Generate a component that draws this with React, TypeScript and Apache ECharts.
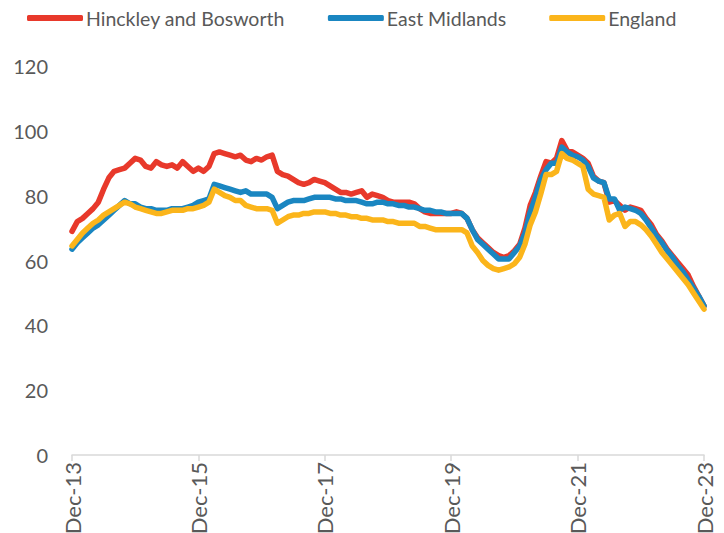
import React, { useEffect, useRef } from "react";
import * as echarts from "echarts";

const monthNames = ["Jan", "Feb", "Mar", "Apr", "May", "Jun", "Jul", "Aug", "Sep", "Oct", "Nov", "Dec"];
// Monthly categories Dec-13 .. Dec-23
const categories: string[] = ["Dec-13"];
for (let y = 14; y <= 23; y++) {
  for (let m = 0; m < 12; m++) categories.push(`${monthNames[m]}-${y}`);
}

const hinckley = [
  69, 72, 73, 74.5, 76, 78, 82, 85.5, 87.5, 88, 88.5, 90, 91.5,
  91, 89, 88.5, 90.5, 89.5, 89, 89.5, 88.5, 90.5, 89, 87.5, 88.5,
  87.5, 89, 93, 93.5, 93, 92.5, 92, 92.5, 91, 90.5, 91.5, 91,
  92, 92.5, 87.5, 86.5, 86, 85, 84, 83.5, 84, 85, 84.5, 84,
  83, 82, 81, 81, 80.5, 81, 81.5, 79.5, 80.5, 80, 79.5, 78.5,
  78, 78, 78, 78, 77.5, 76, 75, 74.5, 74.5, 74.5, 74.5, 74.5,
  75, 74.5, 73, 69.5, 67, 65.5, 64, 62.5, 61.5, 61, 61.5, 63,
  65, 70, 77, 81, 86, 90.5, 90, 91.5, 97, 94, 93.5, 92.5,
  91.5, 90, 86, 84.5, 84, 78, 78.5, 77, 75.5, 76.5, 76, 75.5,
  73, 71, 68, 66, 63.5, 61.5, 59.5, 57.5, 55.5, 52, 49, 46,
];

const eastMidlands = [
  63.5, 65.5, 67, 68.5, 70, 71, 72.5, 74, 75.5, 77, 78.5, 77.5, 77.5,
  76.5, 76, 76, 75.5, 75.5, 75.5, 76, 76, 76, 76.5, 77, 78,
  78.5, 79, 83.5, 83, 82.5, 82, 81.5, 81, 81.5, 80.5, 80.5, 80.5,
  80.5, 79.5, 76, 77, 78, 78.5, 78.5, 78.5, 79, 79.5, 79.5, 79.5,
  79.5, 79, 79, 78.5, 78.5, 78.5, 78, 77.5, 77.5, 78, 78, 77.5,
  77.5, 77, 77, 76.5, 76.5, 76, 75.5, 75.5, 75, 75, 74.5, 74.5,
  74.5, 74.5, 73, 69.5, 66.5, 65, 63.5, 62, 60.5, 60.5, 60.5, 62.5,
  64.5, 68.5, 75, 79.5, 85, 88, 90, 90, 95, 93.5, 92.5, 92,
  91, 89, 85.5, 84.5, 84, 79, 79, 75.5, 76.5, 76, 75.5, 74.5,
  72.5, 70, 67.5, 65.5, 63, 61, 58.5, 56.5, 54, 51.5, 49, 46,
];

const england = [
  64.5, 66.5, 68.5, 70, 71.5, 72.5, 74, 75, 76, 77, 78, 77.5, 76.5,
  76, 75.5, 75, 74.5, 74.5, 75, 75.5, 75.5, 75.5, 76, 76, 76.5,
  77, 78, 82, 81, 80, 79.5, 78.5, 78.5, 77, 76.5, 76, 76,
  76, 75.5, 71.5, 72.5, 73.5, 74, 74, 74.5, 74.5, 75, 75, 75,
  74.5, 74.5, 74, 74, 73.5, 73.5, 73, 73, 72.5, 72.5, 72.5, 72,
  72, 71.5, 71.5, 71.5, 71.5, 70.5, 70.5, 70, 69.5, 69.5, 69.5, 69.5,
  69.5, 69.5, 68.5, 64.5, 62.5, 60, 58.5, 57.5, 57, 57.5, 58, 59,
  61, 65, 71, 75, 80.5, 86.5, 86.5, 87.5, 93, 91.5, 91, 90,
  89, 82, 80.5, 80, 79.5, 72.5, 74, 74.5, 70.5, 72, 72, 71,
  69.5, 67.5, 65, 62.5, 60.5, 58.5, 56.5, 54.5, 52.5, 50, 47.5, 45,
];

const seriesNames = ["Hinckley and Bosworth", "East Midlands", "England"];
const colors = ["#E8392B", "#1A86C1", "#FBB51B"];
const yTicks = { min: 0, max: 120, interval: 20 };

export default function App() {
  const ref = useRef<HTMLDivElement>(null);
  useEffect(() => {
    if (!ref.current) return;
    const chart = echarts.init(ref.current, null, { renderer: "svg" });
    const font = "Lato, 'Open Sans', sans-serif";
    const dataSets = [hinckley, eastMidlands, england];
    chart.setOption({
      animation: false,
      backgroundColor: "#ffffff",
      color: colors,
      textStyle: { fontFamily: font },
      legend: {
        top: 3,
        left: 22,
        icon: "roundRect",
        itemWidth: 56,
        itemHeight: 6,
        itemGap: 43,
        textStyle: { fontSize: 19.5, color: "#595959", fontFamily: font, padding: [0, 0, 0, -2] },
        data: seriesNames,
      },
      grid: {
        left: 72,
        right: 20,
        top: 66,
        bottom: 78,
        containLabel: false,
        outerBoundsMode: "none",
      },
      xAxis: {
        type: "category",
        data: categories,
        boundaryGap: false,
        axisLine: { lineStyle: { color: "#D9D9D9", width: 1.5 } },
        axisTick: { interval: 23, length: 6, lineStyle: { color: "#D9D9D9", width: 1.5 } },
        axisLabel: {
          interval: 23,
          rotate: 90,
          margin: 7,
          fontSize: 22,
          color: "#595959",
          fontFamily: font,
        },
        splitLine: { show: false },
      },
      yAxis: {
        type: "value",
        min: yTicks.min,
        max: yTicks.max,
        interval: yTicks.interval,
        axisLine: { show: false },
        axisTick: { show: false },
        splitLine: { show: false },
        axisLabel: { fontSize: 20, color: "#595959", margin: 24, fontFamily: font },
      },
      series: seriesNames.map((name, i) => ({
        name,
        type: "line",
        data: dataSets[i],
        showSymbol: false,
        symbol: "none",
        lineStyle: { width: 5.5, color: colors[i], cap: "round", join: "round" },
        itemStyle: { color: colors[i] },
      })),
    });
    return () => chart.dispose();
  }, []);
  return (
    <div
      ref={ref}
      style={{ position: "fixed", left: 0, top: 0, width: 724, height: 533 }}
    />
  );
}
